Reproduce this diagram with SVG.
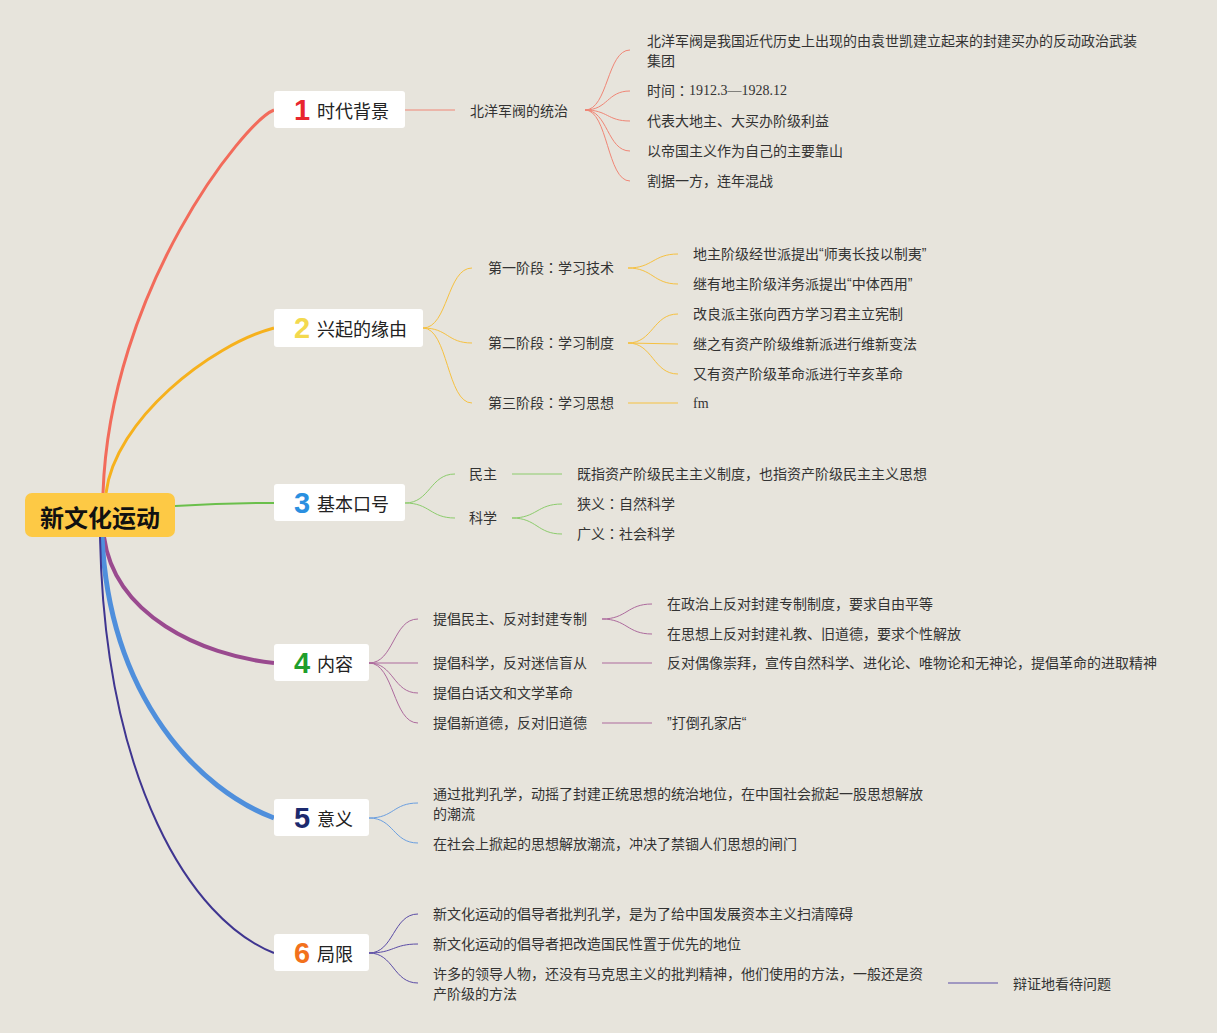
<svg xmlns="http://www.w3.org/2000/svg" width="1217" height="1033" viewBox="0 0 1217 1033">
<style>
text{font-family:"Noto Sans CJK SC","Noto Sans",sans-serif;fill:#333;dominant-baseline:central}
.t{font-size:14px}
.b{font-size:18px;fill:#222}
.n{font-family:"Liberation Sans",Arial,sans-serif;font-size:29px;font-weight:bold;text-anchor:middle}
.s{font-family:"Liberation Serif","Times New Roman",serif}
.q{font-family:"Liberation Sans",Arial,sans-serif}
.k{font-family:"Noto Sans CJK TC","Noto Sans CJK SC",sans-serif}
.box{fill:#fff}
path{fill:none}
.c1{stroke:#f08676;stroke-width:1}
.c2{stroke:#f6c141;stroke-width:1}
.c3{stroke:#8ccc6c;stroke-width:1}
.c4{stroke:#ad6a9d;stroke-width:1}
.c5{stroke:#6b9fe0;stroke-width:1}
.c6{stroke:#5b4ca6;stroke-width:1}
</style>
<rect width="1217" height="1033" fill="#e7e4dc"/>
<g id="connectors">
<path d="M103,493 C110,290 244,122 274,110" stroke="#f26b5b" stroke-width="3"/>
<path d="M106,493 C115,420 210,345 274,328" stroke="#f6b11d" stroke-width="3"/>
<path d="M175,506 Q225,503 274,503" stroke="#6abf4b" stroke-width="2"/>
<path d="M104,537 C115,615 200,655 274,663" stroke="#9a4a8f" stroke-width="4"/>
<path d="M102,537 C110,700 200,790 274,818" stroke="#4f8fdc" stroke-width="5"/>
<path d="M100,537 C105,780 190,920 274,953" stroke="#3f3590" stroke-width="2"/>
<path class="c1" d="M405,110 L455,110"/>
<path class="c1" d="M585,110 C608,110 607,50 630,50"/>
<path class="c1" d="M585,110 C608,110 607,91 630,91"/>
<path class="c1" d="M585,110 C608,110 607,121 630,121"/>
<path class="c1" d="M585,110 C608,110 607,151 630,151"/>
<path class="c1" d="M585,110 C608,110 607,181 630,181"/>
<path class="c2" d="M423,328 C448,328 447,268 472,268"/>
<path class="c2" d="M423,328 C448,328 447,343 472,343"/>
<path class="c2" d="M423,328 C448,328 447,403 472,403"/>
<path class="c2" d="M628,268 C653,268 653,254 678,254"/>
<path class="c2" d="M628,268 C653,268 653,284 678,284"/>
<path class="c2" d="M628,343 C653,343 653,314 678,314"/>
<path class="c2" d="M628,343 L678,344"/>
<path class="c2" d="M628,343 C653,343 653,374 678,374"/>
<path class="c2" d="M628,403 L678,403"/>
<path class="c3" d="M405,503 C430,503 430,474 455,474"/>
<path class="c3" d="M405,503 C430,503 430,518 455,518"/>
<path class="c3" d="M512,474 L562,474"/>
<path class="c3" d="M512,518 C537,518 537,504 562,504"/>
<path class="c3" d="M512,518 C537,518 537,534 562,534"/>
<path class="c4" d="M369,663 C394,663 393,619 418,619"/>
<path class="c4" d="M369,663 L418,663"/>
<path class="c4" d="M369,663 C394,663 393,693 418,693"/>
<path class="c4" d="M369,663 C394,663 393,723 418,723"/>
<path class="c4" d="M602,619 C627,619 627,604 652,604"/>
<path class="c4" d="M602,619 C627,619 627,634 652,634"/>
<path class="c4" d="M602,663 L652,663" stroke-width="1.5"/>
<path class="c4" d="M602,723 L652,723" stroke-width="1.5"/>
<path class="c5" d="M369,818 C394,818 393,803 418,803"/>
<path class="c5" d="M369,818 C394,818 393,843 418,843"/>
<path class="c6" d="M369,953 C394,953 393,914 418,914"/>
<path class="c6" d="M369,953 C394,953 393,944 418,944"/>
<path class="c6" d="M369,953 C394,953 393,983 418,983"/>
<path class="c6" d="M948,983 L998,983" stroke-width="1.5"/>
</g>
<g id="root">
<rect x="25" y="493" width="150" height="44" rx="7" fill="#fdc945"/>
<text x="100" y="516" text-anchor="middle" style="font-size:24px;font-weight:bold;fill:#111">新文化运动</text>
</g>
<g id="n1">
<rect class="box" x="274" y="91" width="131" height="37" rx="3"/>
<text class="n" x="302" y="110" style="fill:#e8262f">1</text>
<text class="b" x="317" y="110">时代背景</text>
</g>
<g id="n1-1"><text class="t" x="470" y="110">北洋军阀的统治</text></g>
<g id="n1-1-1"><text class="t" x="647" y="40">北洋军阀是我国近代历史上出现的由袁世凯建立起来的封建买办的反动政治武装</text><text class="t" x="647" y="60">集团</text></g>
<g id="n1-1-2"><text class="t" x="647" y="90">时间<tspan class="k">：</tspan><tspan class="s">1912.3—1928.12</tspan></text></g>
<g id="n1-1-3"><text class="t" x="647" y="120">代表大地主、大买办阶级利益</text></g>
<g id="n1-1-4"><text class="t" x="647" y="150">以帝国主义作为自己的主要靠山</text></g>
<g id="n1-1-5"><text class="t" x="647" y="180">割据一方，连年混战</text></g>
<g id="n2">
<rect class="box" x="274" y="309" width="149" height="38" rx="3"/>
<text class="n" x="302" y="328" style="fill:#f3d94e">2</text>
<text class="b" x="317" y="328">兴起的缘由</text>
</g>
<g id="n2-1"><text class="t" x="488" y="267">第一阶段<tspan class="k">：</tspan>学习技术</text></g>
<g id="n2-2"><text class="t" x="488" y="342">第二阶段<tspan class="k">：</tspan>学习制度</text></g>
<g id="n2-3"><text class="t" x="488" y="402">第三阶段<tspan class="k">：</tspan>学习思想</text></g>
<g id="n2-1-1"><text class="t" x="693" y="253">地主阶级经世派提出<tspan class="q">“</tspan>师夷长技以制夷<tspan class="q">”</tspan></text></g>
<g id="n2-1-2"><text class="t" x="693" y="283">继有地主阶级洋务派提出<tspan class="q">“</tspan>中体西用<tspan class="q">”</tspan></text></g>
<g id="n2-2-1"><text class="t" x="693" y="313">改良派主张向西方学习君主立宪制</text></g>
<g id="n2-2-2"><text class="t" x="693" y="343">继之有资产阶级维新派进行维新变法</text></g>
<g id="n2-2-3"><text class="t" x="693" y="373">又有资产阶级革命派进行辛亥革命</text></g>
<g id="n2-3-1"><text class="t s" x="693" y="403">fm</text></g>
<g id="n3">
<rect class="box" x="274" y="484" width="131" height="37" rx="3"/>
<text class="n" x="302" y="503" style="fill:#2a8fe0">3</text>
<text class="b" x="317" y="503">基本口号</text>
</g>
<g id="n3-1"><text class="t" x="469" y="473">民主</text></g>
<g id="n3-2"><text class="t" x="469" y="517">科学</text></g>
<g id="n3-1-1"><text class="t" x="577" y="473">既指资产阶级民主主义制度，也指资产阶级民主主义思想</text></g>
<g id="n3-2-1"><text class="t" x="577" y="503">狭义<tspan class="k">：</tspan>自然科学</text></g>
<g id="n3-2-2"><text class="t" x="577" y="533">广义<tspan class="k">：</tspan>社会科学</text></g>
<g id="n4">
<rect class="box" x="274" y="644" width="95" height="37" rx="3"/>
<text class="n" x="302" y="663" style="fill:#1f9e2b">4</text>
<text class="b" x="317" y="663">内容</text>
</g>
<g id="n4-1"><text class="t" x="433" y="618">提倡民主、反对封建专制</text></g>
<g id="n4-2"><text class="t" x="433" y="662">提倡科学，反对迷信盲从</text></g>
<g id="n4-3"><text class="t" x="433" y="692">提倡白话文和文学革命</text></g>
<g id="n4-4"><text class="t" x="433" y="722">提倡新道德，反对旧道德</text></g>
<g id="n4-1-1"><text class="t" x="667" y="603">在政治上反对封建专制制度，要求自由平等</text></g>
<g id="n4-1-2"><text class="t" x="667" y="633">在思想上反对封建礼教、旧道德，要求个性解放</text></g>
<g id="n4-2-1"><text class="t" x="667" y="662">反对偶像崇拜，宣传自然科学、进化论、唯物论和无神论，提倡革命的进取精神</text></g>
<g id="n4-4-1"><text class="t" x="667" y="722"><tspan class="q">”</tspan>打倒孔家店<tspan class="q">“</tspan></text></g>
<g id="n5">
<rect class="box" x="274" y="799" width="95" height="37" rx="3"/>
<text class="n" x="302" y="818" style="fill:#1c2a6e">5</text>
<text class="b" x="317" y="818">意义</text>
</g>
<g id="n5-1"><text class="t" x="433" y="793">通过批判孔学，动摇了封建正统思想的统治地位，在中国社会掀起一股思想解放</text><text class="t" x="433" y="813">的潮流</text></g>
<g id="n5-2"><text class="t" x="433" y="843">在社会上掀起的思想解放潮流，冲决了禁锢人们思想的闸门</text></g>
<g id="n6">
<rect class="box" x="274" y="934" width="95" height="37" rx="3"/>
<text class="n" x="302" y="953" style="fill:#f2711c">6</text>
<text class="b" x="317" y="953">局限</text>
</g>
<g id="n6-1"><text class="t" x="433" y="913">新文化运动的倡导者批判孔学，是为了给中国发展资本主义扫清障碍</text></g>
<g id="n6-2"><text class="t" x="433" y="943">新文化运动的倡导者把改造国民性置于优先的地位</text></g>
<g id="n6-3"><text class="t" x="433" y="973">许多的领导人物，还没有马克思主义的批判精神，他们使用的方法，一般还是资</text><text class="t" x="433" y="993">产阶级的方法</text></g>
<g id="n6-3-1"><text class="t" x="1013" y="983">辩证地看待问题</text></g>
</svg>
